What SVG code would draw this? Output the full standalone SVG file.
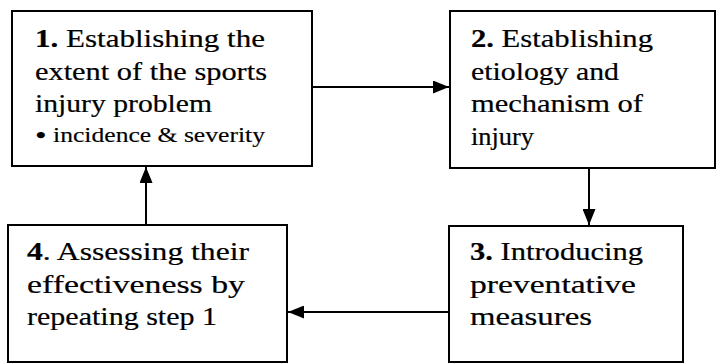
<svg xmlns="http://www.w3.org/2000/svg" width="724" height="364" viewBox="0 0 724 364">
  <style>
    .box { fill: #ffffff; stroke: #000000; stroke-width: 2; }
    .conn { fill: none; stroke: #000000; stroke-width: 2; }
    .t { font-family: "Liberation Serif", "Times New Roman", serif; font-size: 25px; fill: #000000; stroke: #000000; stroke-width: 0.2; }
    .s { font-family: "Liberation Serif", "Times New Roman", serif; font-size: 20px; fill: #000000; stroke: #000000; stroke-width: 0.15; }
    .b { font-weight: bold; }
    .bul { font-size: 26px; }
  </style>
  <defs>
    <marker id="arrow" markerUnits="userSpaceOnUse" markerWidth="16" markerHeight="13" refX="16" refY="6.5" orient="auto">
      <path d="M0,0 L16,6.5 L0,13 z" fill="#000000"/>
    </marker>
  </defs>
  <rect x="0" y="0" width="724" height="364" fill="#ffffff"/>

  <g id="connectors">
    <path class="conn" d="M312,87 L449,87" marker-end="url(#arrow)"/>
    <path class="conn" d="M589,169 L589,225" marker-end="url(#arrow)"/>
    <path class="conn" d="M449,312 L288,312" marker-end="url(#arrow)"/>
    <path class="conn" d="M146,225 L146,167" marker-end="url(#arrow)"/>
  </g>

  <g id="node1">
    <rect class="box" x="12" y="11" width="300" height="155"/>
    <text class="t" x="35" y="47" textLength="230" lengthAdjust="spacingAndGlyphs"><tspan class="b">1.</tspan> Establishing the</text>
    <text class="t" x="35" y="80" textLength="232" lengthAdjust="spacingAndGlyphs">extent of the sports</text>
    <text class="t" x="35" y="112" textLength="177" lengthAdjust="spacingAndGlyphs">injury problem</text>
    <text class="s" x="35" y="142" textLength="230" lengthAdjust="spacingAndGlyphs"><tspan class="bul" dy="2">•</tspan><tspan dy="-2"> incidence &amp; severity</tspan></text>
  </g>

  <g id="node2">
    <rect class="box" x="450" y="11" width="265" height="157"/>
    <text class="t" x="471" y="47" textLength="182" lengthAdjust="spacingAndGlyphs"><tspan class="b">2.</tspan> Establishing</text>
    <text class="t" x="471" y="80" textLength="148" lengthAdjust="spacingAndGlyphs">etiology and</text>
    <text class="t" x="471" y="112" textLength="172" lengthAdjust="spacingAndGlyphs">mechanism of</text>
    <text class="t" x="471" y="145" textLength="63" lengthAdjust="spacingAndGlyphs">injury</text>
  </g>

  <g id="node3">
    <rect class="box" x="449" y="226" width="234" height="136"/>
    <text class="t" x="470" y="260" textLength="173" lengthAdjust="spacingAndGlyphs"><tspan class="b">3.</tspan> Introducing</text>
    <text class="t" x="470" y="293" textLength="166" lengthAdjust="spacingAndGlyphs">preventative</text>
    <text class="t" x="470" y="325" textLength="122" lengthAdjust="spacingAndGlyphs">measures</text>
  </g>

  <g id="node4">
    <rect class="box" x="8" y="225" width="279" height="137"/>
    <text class="t" x="27" y="260" textLength="222" lengthAdjust="spacingAndGlyphs"><tspan class="b">4</tspan>. Assessing their</text>
    <text class="t" x="27" y="293" textLength="218" lengthAdjust="spacingAndGlyphs">effectiveness by</text>
    <text class="t" x="27" y="325" textLength="190" lengthAdjust="spacingAndGlyphs">repeating step 1</text>
  </g>
</svg>
